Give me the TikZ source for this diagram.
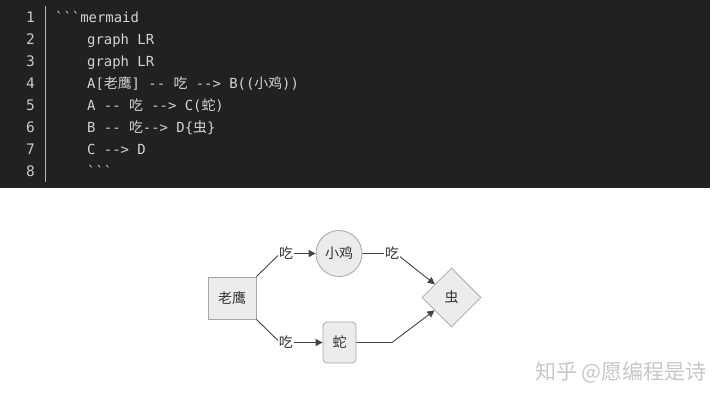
\documentclass[tikz,border=0pt]{standalone}
\usepackage{fontspec}
\setmainfont{Noto Sans CJK SC}
\setmonofont{DejaVu Sans Mono}
\newfontfamily\cjk{Noto Sans CJK SC}
\newcommand{\zh}[1]{{\cjk #1}}
\usetikzlibrary{arrows.meta, shapes.geometric}

\definecolor{codebg}{HTML}{202123}
\definecolor{codetext}{HTML}{D4D4D4}
\definecolor{numtext}{HTML}{CACACA}
\definecolor{sepgray}{HTML}{B4B4B4}
\definecolor{nodefill}{HTML}{ECECEC}
\definecolor{nodeborder}{HTML}{A6A6A6}
\definecolor{nodetext}{HTML}{333333}
\definecolor{edgegray}{HTML}{444444}

\begin{document}
\begin{tikzpicture}[
        x=1pt, y=-1pt,
        codeline/.style={anchor=base west, inner sep=0pt, text=codetext, font=\ttfamily\fontsize{13.9}{16}\selectfont},
        linenum/.style={anchor=base east, inner sep=0pt, text=numtext, font=\ttfamily\fontsize{14.5}{16}\selectfont},
        flownode/.style={draw=nodeborder, fill=nodefill, text=nodetext, line width=0.8pt, inner sep=0pt, font=\fontsize{14}{16}\selectfont},
        eats/.style={fill=white, text=nodetext, inner sep=1pt, font=\fontsize{14}{16}\selectfont},
        arrow/.style={-{Triangle[length=7pt, width=7pt]}, draw=edgegray, line width=0.9pt},
        watermark/.style={text=black!22, font=\fontsize{21}{24}\selectfont},
        ]

    \useasboundingbox (0,0) rectangle (728,402);
    \fill[white] (0,0) rectangle (728,402);

    % Code block
    \fill[codebg] (0,0) rectangle (710,188);
    \draw[sepgray, line width=0.9pt] (45,6) -- (45,182);
    \foreach \i in {1,...,8}
        \node[linenum] (Num\i) at (35,22*\i) {\i};
    \node[codeline] (Line1) at (55,22) {```mermaid};
    \node[codeline] (Line2) at (87,44) {graph LR};
    \node[codeline] (Line3) at (87,66) {graph LR};
    \node[codeline] (Line4) at (87,88) {A[\zh{老鹰}] -- \zh{吃} --> B((\zh{小鸡}))};
    \node[codeline] (Line5) at (87,110) {A -- \zh{吃} --> C(\zh{蛇})};
    \node[codeline] (Line6) at (87,132) {B -- \zh{吃}--> D\{\zh{虫}\}};
    \node[codeline] (Line7) at (87,154) {C --> D};
    \node[codeline] (Line8) at (87,176) {```};

    % Nodes
    \node[flownode, rectangle, minimum width=48pt, minimum height=42pt] (Eagle) at (232,298) {老鹰};
    \node[flownode, circle, minimum size=46pt] (Chick) at (339,253.5) {小鸡};
    \node[flownode, rectangle, rounded corners=4pt, minimum width=33pt, minimum height=41pt] (Snake) at (339.5,342.5) {蛇};
    \node[flownode, diamond, aspect=1, minimum width=59pt, minimum height=59pt] (Bug) at (451.5,297.5) {虫};

    % Arrows and labels
    \draw[arrow] (Eagle.north east) -- (280,253.5) -- node[eats, pos=0.17] (EatChick) {吃} (Chick);
    \draw[arrow] (Eagle.south east) -- (280,342.5) -- node[eats, pos=0.14] (EatSnake) {吃} (Snake);
    \draw[arrow] (Chick) -- (396,253.5) -- (Bug);
    \node[eats] (EatBug) at (392,253.5) {吃};
    \draw[arrow] (Snake) -- (392,342.5) -- (Bug);

    \node[watermark] (Zhihu) at (621,372) {知乎 @愿编程是诗};

\end{tikzpicture}
\end{document}
